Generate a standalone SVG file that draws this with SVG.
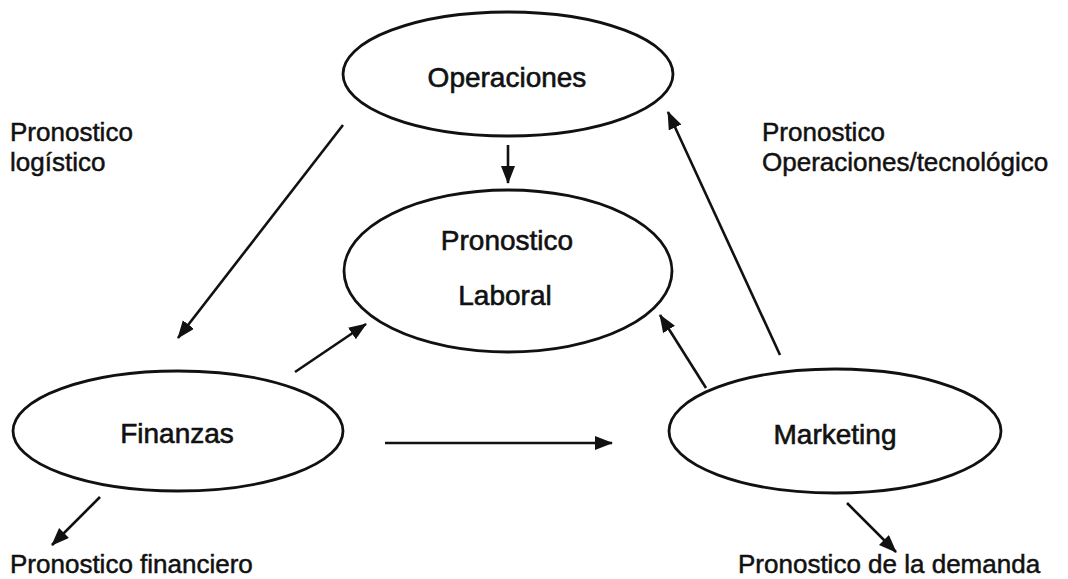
<svg xmlns="http://www.w3.org/2000/svg" width="1068" height="579" viewBox="0 0 1068 579">
<style>
.node{fill:none;stroke:#111;stroke-width:2.8}
.lbl{font-family:"Liberation Sans",Arial,sans-serif;font-size:28px;fill:#111;stroke:#111;stroke-width:0.6;text-anchor:middle}
.txt{font-family:"Liberation Sans",Arial,sans-serif;font-size:26px;fill:#111;stroke:#111;stroke-width:0.5}
.edge{stroke:#111;stroke-width:2.6;fill:none;marker-end:url(#ah)}
</style>
<defs>
<marker id="ah" markerUnits="userSpaceOnUse" markerWidth="20" markerHeight="16" refX="17" refY="7" orient="auto">
<path d="M0,0 L18,7 L0,14 Z" fill="#111"/>
</marker>
</defs>
<rect width="1068" height="579" fill="#fff"/>
<g id="operaciones">
<ellipse class="node" cx="508" cy="74" rx="165" ry="62"/>
<text class="lbl" x="507" y="87">Operaciones</text>
</g>
<g id="laboral">
<ellipse class="node" cx="508" cy="271" rx="164" ry="81"/>
<text class="lbl" x="507" y="250">Pronostico</text>
<text class="lbl" x="505" y="305">Laboral</text>
</g>
<g id="finanzas">
<ellipse class="node" cx="178" cy="431" rx="165" ry="60"/>
<text class="lbl" x="177" y="443">Finanzas</text>
</g>
<g id="marketing">
<ellipse class="node" cx="835" cy="431" rx="166" ry="62"/>
<text class="lbl" x="835" y="444">Marketing</text>
</g>
<g id="labels">
<text class="txt" x="10" y="141">Pronostico</text>
<text class="txt" x="10" y="171">logístico</text>
<text class="txt" x="762" y="141">Pronostico</text>
<text class="txt" x="762" y="171">Operaciones/tecnológico</text>
<text class="txt" x="10" y="573">Pronostico financiero</text>
<text class="txt" x="738" y="573">Pronostico de la demanda</text>
</g>
<g id="connectors">
<line class="edge" x1="508" y1="145" x2="508" y2="183"/>
<line class="edge" x1="343" y1="125" x2="178" y2="338"/>
<line class="edge" x1="295" y1="372" x2="366" y2="324"/>
<line class="edge" x1="706" y1="388" x2="660" y2="315"/>
<line class="edge" x1="780" y1="355" x2="668" y2="112"/>
<line class="edge" x1="385" y1="443" x2="612" y2="443"/>
<line class="edge" x1="100" y1="497" x2="52" y2="545"/>
<line class="edge" x1="847" y1="503" x2="896" y2="552"/>
</g>
</svg>
